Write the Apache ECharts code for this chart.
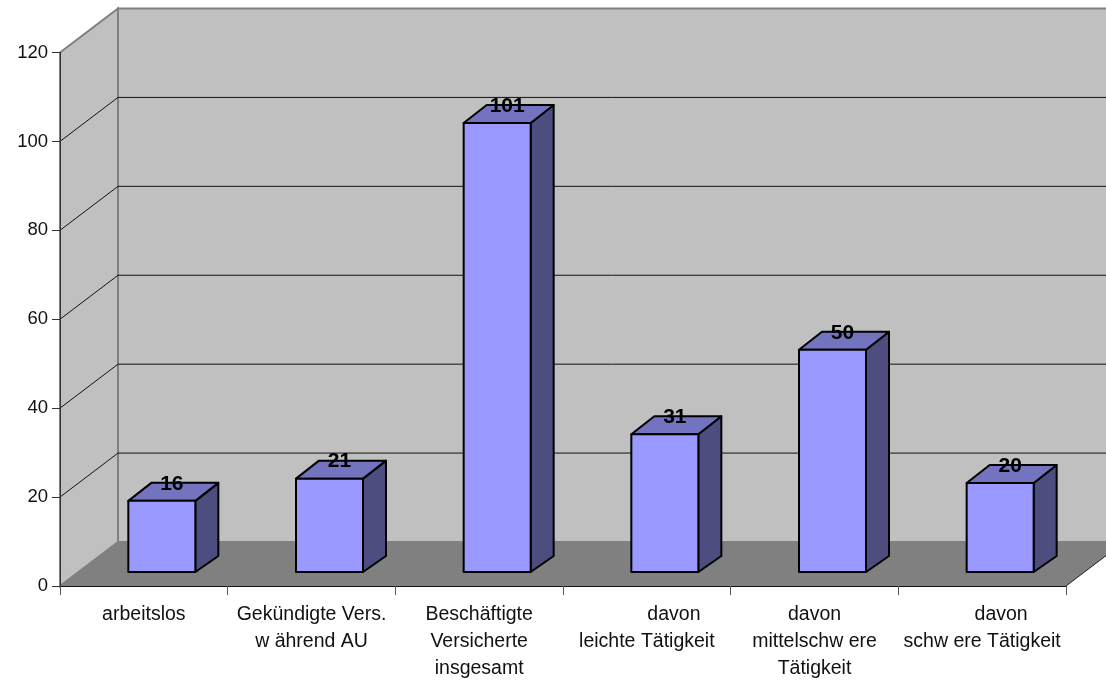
<!DOCTYPE html>
<html>
<head>
<meta charset="utf-8">
<style>html,body{margin:0;padding:0;background:#fff}#chart{width:1106px;height:680px}</style>
<script src="https://cdn.jsdelivr.net/npm/echarts@6/dist/echarts.min.js"></script>
</head>
<body>
<div id="chart"></div>
<script>
// Versicherte nach Gruppe, als 3D-Säulen mit Rückwand und Boden
const categories = [
  'arbeitslos',
  'Gekündigte Vers.\nw ährend AU',
  'Beschäftigte\nVersicherte\ninsgesamt',
  '          davon\nleichte Tätigkeit',
  'davon\nmittelschw ere\nTätigkeit',
  '       davon\nschw ere Tätigkeit'
];
const barValues = [16, 21, 101, 31, 50, 20];
const innerGridValues = [20, 40, 60, 80, 100];

// Raumtiefe der Wände und Lage der Säulen im Raum
const ROOM_DX = 58, ROOM_DY = -44;
const BAR_SHIFT_X = 18, BAR_SHIFT_Y = -14;
const BAR_WIDTH = 67, BAR_DX = 23, BAR_DY = -18;
const FONT = '"Liberation Sans", Arial, sans-serif';

function renderRoom(params, api) {
  const c = params.coordSys;
  const x0 = c.x, x1 = c.x + c.width, top = c.y, bottom = c.y + c.height;
  const wallStyle = { fill: '#c0c0c0', stroke: '#808080', lineWidth: 2 };
  return {
    type: 'group',
    children: [
      { type: 'polygon', shape: { points: [[x0 + ROOM_DX, top + ROOM_DY], [x1 + ROOM_DX, top + ROOM_DY], [x1 + ROOM_DX, bottom + ROOM_DY], [x0 + ROOM_DX, bottom + ROOM_DY]] }, style: wallStyle },
      { type: 'polygon', shape: { points: [[x0, top], [x0 + ROOM_DX, top + ROOM_DY], [x0 + ROOM_DX, bottom + ROOM_DY], [x0, bottom]] }, style: wallStyle },
      { type: 'polygon', shape: { points: [[x0, bottom], [x1, bottom], [x1 + ROOM_DX, bottom + ROOM_DY], [x0 + ROOM_DX, bottom + ROOM_DY]] }, style: { fill: '#808080', stroke: 'none' } },
      { type: 'line', shape: { x1: x1, y1: bottom, x2: x1 + ROOM_DX, y2: bottom + ROOM_DY }, style: { stroke: '#202020', lineWidth: 1 } }
    ]
  };
}

function renderGridLine(params, api) {
  const c = params.coordSys;
  const y = api.coord([0, api.value(1)])[1];
  return {
    type: 'polyline',
    shape: { points: [[c.x, y], [c.x + ROOM_DX, y + ROOM_DY], [c.x + c.width + ROOM_DX, y + ROOM_DY]] },
    style: { fill: 'none', stroke: '#111', lineWidth: 1 }
  };
}

function renderBar(params, api) {
  const value = api.value(1);
  const centre = api.coord([api.value(0), value]);
  const base = api.coord([api.value(0), 0]);
  const l = centre[0] + BAR_SHIFT_X - BAR_WIDTH / 2, r = l + BAR_WIDTH;
  const t = centre[1] + BAR_SHIFT_Y, b = base[1] + BAR_SHIFT_Y;
  const edge = { stroke: '#000', lineWidth: 2, lineJoin: 'round' };
  return {
    type: 'group',
    children: [
      { type: 'polygon', shape: { points: [[r, t], [r + BAR_DX, t + BAR_DY], [r + BAR_DX, b + BAR_DY + 2], [r, b]] }, style: Object.assign({ fill: '#4d4d80' }, edge) },
      { type: 'polygon', shape: { points: [[l, t], [l + BAR_DX, t + BAR_DY], [r + BAR_DX, t + BAR_DY], [r, t]] }, style: Object.assign({ fill: '#7373bf' }, edge) },
      { type: 'rect', shape: { x: l, y: t, width: BAR_WIDTH, height: b - t }, style: Object.assign({ fill: '#9999ff' }, edge) },
      { type: 'text', style: { text: String(value), x: (l + r) / 2 + 10, y: t - 17, align: 'center', verticalAlign: 'middle', fill: '#000', font: 'bold 21px ' + FONT } }
    ]
  };
}

const chart = echarts.init(document.getElementById('chart'), null, { renderer: 'canvas' });
chart.setOption({
  animation: false,
  backgroundColor: '#fff',
  grid: { left: 60, top: 52.5, width: 1006, height: 533.5, containLabel: false, outerBoundsMode: 'none' },
  xAxis: {
    type: 'category',
    data: categories,
    z: 5,
    axisLine: { lineStyle: { color: '#111', width: 1 } },
    axisTick: { show: true, alignWithLabel: false, length: 9, lineStyle: { color: '#555' } },
    axisLabel: { interval: 0, color: '#111', fontFamily: FONT, fontSize: 19.5, lineHeight: 27, margin: 15, hideOverlap: false }
  },
  yAxis: {
    type: 'value',
    min: 0,
    max: 120,
    interval: 20,
    z: 5,
    axisLine: { show: true, lineStyle: { color: '#333', width: 1 } },
    axisTick: { show: true, length: 8, lineStyle: { color: '#333' } },
    axisLabel: { color: '#111', fontFamily: FONT, fontSize: 18.5, margin: 12 },
    splitLine: { show: false }
  },
  series: [
    { type: 'custom', name: 'Raum', silent: true, z: 1, renderItem: renderRoom, data: [[0, 0]] },
    { type: 'custom', name: 'Gitter', silent: true, z: 2, renderItem: renderGridLine, data: innerGridValues.map(v => [0, v]) },
    { type: 'custom', name: 'Versicherte', z: 3, renderItem: renderBar, data: barValues.map((v, i) => [i, v]) }
  ]
});
</script>
</body>
</html>
